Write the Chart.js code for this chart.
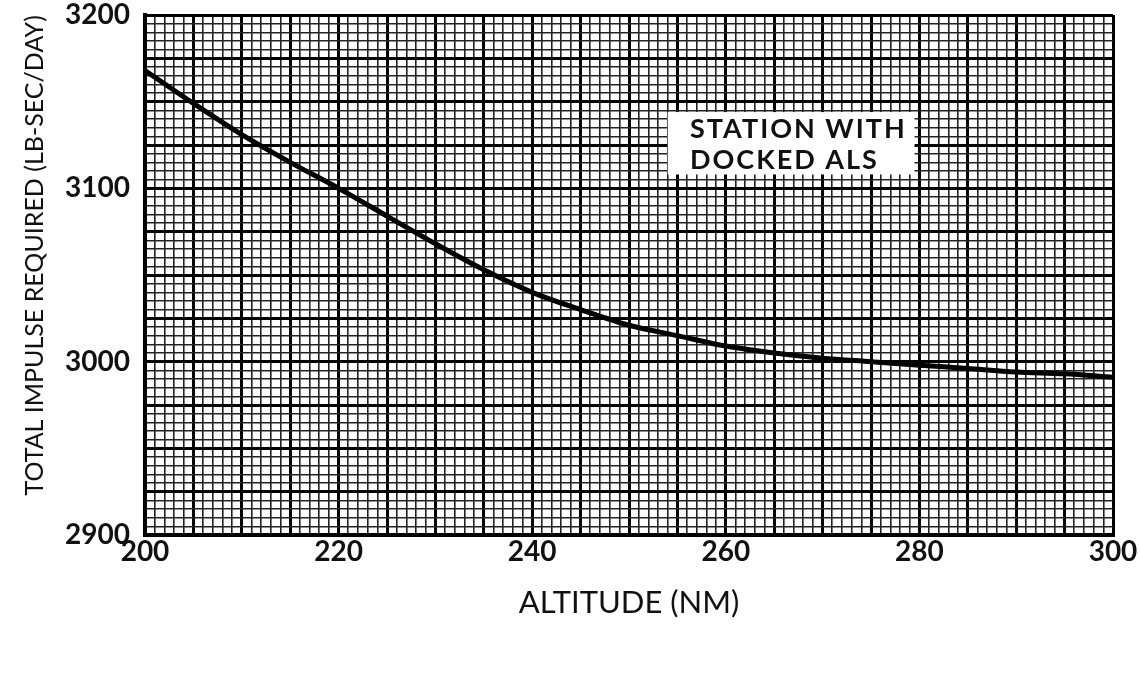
<!DOCTYPE html>
<html>
<head>
<meta charset="utf-8">
<script src="https://cdn.jsdelivr.net/npm/chart.js@4.4.0/dist/chart.umd.min.js"></script>
<style>
  body { margin: 0; background: #fff; }
  #wrap { width: 1140px; height: 690px; }
</style>
</head>
<body>
<div id="wrap"><canvas id="myChart"></canvas></div>
<script>
// altitude in NM, every 5 NM
const altitude = [200, 205, 210, 215, 220, 225, 230, 235, 240, 245, 250,
                  255, 260, 265, 270, 275, 280, 285, 290, 295, 300];
// total impulse required (lb-sec/day)
const impulse = [3168, 3149, 3131, 3115, 3100, 3084, 3068, 3053, 3040, 3030, 3021,
                 3015, 3009, 3005, 3002, 3000, 2998, 2996, 2994, 2993, 2991];
const xTickLabels = [200, 220, 240, 260, 280, 300];
const yTickLabels = [2900, 3000, 3100, 3200];
const noteLines = ['STATION WITH', 'DOCKED ALS'];

const FONT = 'Lato, "DejaVu Sans", sans-serif';

// white note box on the grid paper (data units)
const noteBox = { x0: 254, x1: 279.5, y0: 3144, y1: 3108 };
const noteText = { x: 256.3, y: [3134, 3116] };

const notePlugin = {
  id: 'note',
  afterDatasetsDraw(chart) {
    const { ctx, scales: { x, y } } = chart;
    ctx.save();
    ctx.fillStyle = '#fff';
    const l = x.getPixelForValue(noteBox.x0), r = x.getPixelForValue(noteBox.x1);
    const t = y.getPixelForValue(noteBox.y0), b = y.getPixelForValue(noteBox.y1);
    ctx.fillRect(l, t, r - l, b - t);
    ctx.fillStyle = '#111';
    ctx.font = 'bold 27px ' + FONT;
    ctx.letterSpacing = '2px';
    ctx.textBaseline = 'middle';
    noteLines.forEach((line, i) => {
      ctx.fillText(line, x.getPixelForValue(noteText.x), y.getPixelForValue(noteText.y[i]));
    });
    ctx.restore();
  }
};

// no extra room for the end labels, the frame sits where the layout puts it
function noPad(s) {
  s.paddingTop = 0; s.paddingBottom = 0; s.paddingLeft = 0; s.paddingRight = 0;
}

const data = altitude.map((a, i) => ({ x: a, y: impulse[i] }));

new Chart(document.getElementById('myChart'), {
  type: 'line',
  data: {
    datasets: [{
      data: data,
      borderColor: '#000',
      borderWidth: 5,
      pointRadius: 0,
      cubicInterpolationMode: 'monotone',
      fill: false
    }]
  },
  options: {
    responsive: true,
    maintainAspectRatio: false,
    animation: false,
    layout: { padding: { top: 15, right: 27, left: 0, bottom: 0 } },
    plugins: { legend: { display: false }, tooltip: { enabled: false } },
    scales: {
      x: {
        type: 'linear',
        min: 200,
        max: 300,
        afterFit: (s) => { s.height = 155; noPad(s); },
        ticks: {
          stepSize: 1,
          autoSkip: false,
          maxRotation: 0,
          padding: 0,
          color: '#111',
          font: { family: FONT, size: 28, weight: 'bold' },
          callback: (v) => xTickLabels.includes(v) ? String(v) : ''
        },
        grid: {
          drawTicks: false,
          color: (c) => (c.tick && c.tick.value % 5 === 0) ? '#000' : '#222',
          lineWidth: (c) => (c.tick && c.tick.value % 5 === 0) ? 3 : 1.6
        },
        border: { display: true, color: '#000', width: 4 },
        title: {
          display: true,
          text: 'ALTITUDE (NM)',
          color: '#111',
          font: { family: FONT, size: 31 },
          padding: { top: 0, bottom: 68 }
        }
      },
      y: {
        min: 2900,
        max: 3200,
        afterFit: (s) => { s.width = 145; noPad(s); },
        ticks: {
          stepSize: 5,
          autoSkip: false,
          padding: 15,
          color: '#111',
          font: { family: FONT, size: 28, weight: 'bold' },
          callback: (v) => yTickLabels.includes(v) ? String(v) : ''
        },
        grid: {
          drawTicks: false,
          color: (c) => (c.tick && c.tick.value % 25 === 0) ? '#000' : '#222',
          lineWidth: (c) => (c.tick && c.tick.value % 25 === 0) ? 3 : 1.6
        },
        border: { display: true, color: '#000', width: 4 },
        title: {
          display: true,
          text: 'TOTAL IMPULSE REQUIRED (LB-SEC/DAY)',
          align: 'end',
          color: '#111',
          font: { family: FONT, size: 25 },
          padding: { top: 20, bottom: 0 }
        }
      }
    }
  },
  plugins: [notePlugin]
});
</script>
</body>
</html>
